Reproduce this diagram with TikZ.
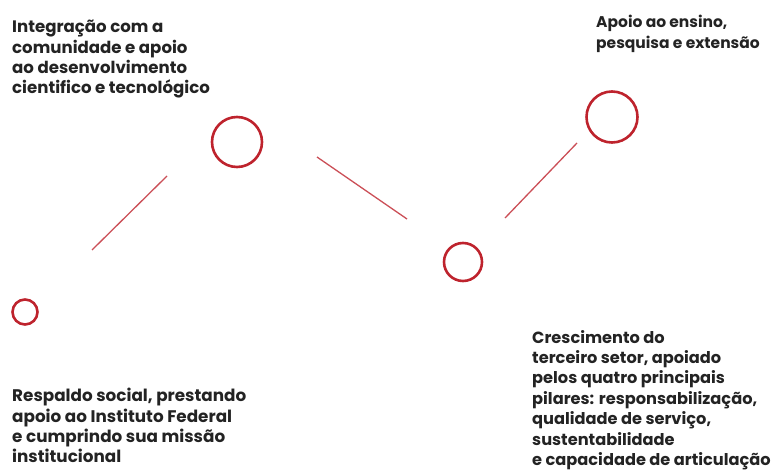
\documentclass[tikz,border=0pt]{standalone}
\usepackage{fontspec}
\setmainfont{Poppins}
\usepackage{xcolor}
\definecolor{mred}{RGB}{190,35,45}
\definecolor{mtext}{RGB}{35,35,35}

\begin{document}
\begin{tikzpicture}[x=1pt,y=-1pt,
  ring/.style={circle,draw=mred,line width=2.6pt,inner sep=0pt},
  link/.style={mred!80,line width=1.3pt},
  label/.style={anchor=north west,inner sep=0pt,align=left,text=mtext,
                font=\bfseries\fontsize{#1}{20.4}\selectfont},
  label/.default=15.5
]
\useasboundingbox (0,0) rectangle (775,470);
% circles
\node[ring,minimum size=25pt] (c1) at (25,312) {};
\node[ring,minimum size=50pt] (c2) at (237,142) {};
\node[ring,minimum size=38pt] (c3) at (463,262) {};
\node[ring,minimum size=51pt] (c4) at (612,117) {};
% segment ends
\coordinate (a1) at (92,250);
\coordinate (b1) at (167,176);
\coordinate (a2) at (317,157);
\coordinate (b2) at (407,219);
\coordinate (a3) at (505,218);
\coordinate (b3) at (577,143);
\draw[link] (a1)--(b1);
\draw[link] (a2)--(b2);
\draw[link] (a3)--(b3);
% texts
\node[label=16.6] (t2) at (12,20) {Integração com a\\ comunidade e apoio\\ ao desenvolvimento\\ cientifico e tecnológico};
\node[label] (t4) at (596,15) {Apoio ao ensino,\\ pesquisa e extensão};
\node[label=16.8] (t1) at (12,388) {Respaldo social, prestando\\ apoio ao Instituto Federal\\ e cumprindo sua missão\\ institucional};
\node[label=16.2] (t3) at (532,330) {Crescimento do\\ terceiro setor, apoiado\\ pelos quatro principais\\ pilares: responsabilização,\\ qualidade de serviço,\\ sustentabilidade\\ e capacidade de articulação};
\end{tikzpicture}
\end{document}
